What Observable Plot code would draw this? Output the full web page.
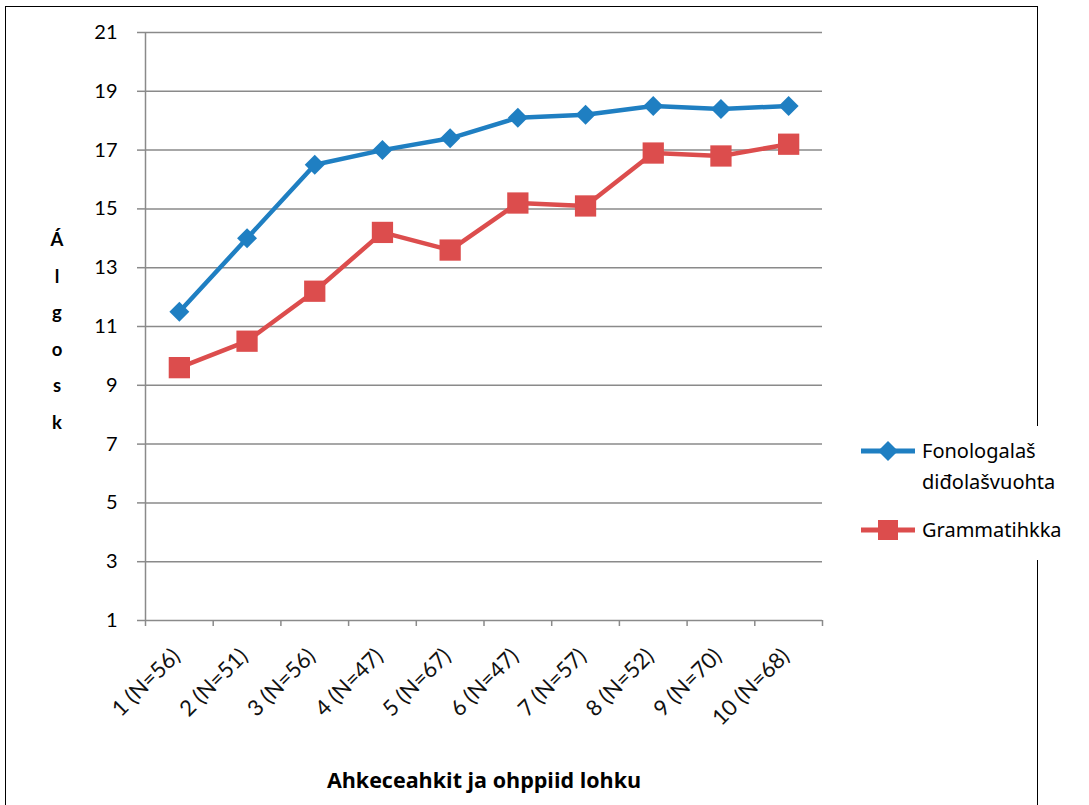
<!DOCTYPE html>
<html><head><meta charset="utf-8">
<script src="https://cdn.jsdelivr.net/npm/d3@7"></script>
<script src="https://cdn.jsdelivr.net/npm/@observablehq/plot@0.6"></script>
<style>
body{margin:0;background:#fff;}
#wrap{position:relative;width:1089px;height:805px;overflow:hidden;background:#fff}
#frame{position:absolute;left:5px;top:6px;width:1033px;height:830px;border:1.5px solid #000;box-sizing:border-box}
#chart{position:absolute;left:0;top:0}
#ytitle{position:absolute;left:37px;top:221px;width:40px;text-align:center;font:bold 18.5px Lato,sans-serif;line-height:36.6px;color:#000}
#xtitle{position:absolute;left:0;width:968px;top:765px;text-align:center;font:bold 21.5px "Open Sans",sans-serif;color:#000}
#legend{position:absolute;left:853px;top:426px;width:236px;height:134px;background:#fff;font:20px "Noto Sans",sans-serif;color:#000}
.li{position:absolute;left:8px;display:flex;align-items:flex-start}
.li svg{flex:none}
.li span{line-height:31px;margin-left:7px}
</style></head><body>
<div id="wrap">
<div id="frame"></div>
<div id="chart"></div>
<div id="ytitle"></div>
<div id="xtitle"></div>
<div id="legend"></div>
</div>
<script>
const categories = ["1 (N=56)","2 (N=51)","3 (N=56)","4 (N=47)","5 (N=67)","6 (N=47)","7 (N=57)","8 (N=52)","9 (N=70)","10 (N=68)"];
const fonologalas = [11.5,14.0,16.5,17.0,17.4,18.1,18.2,18.5,18.4,18.5];
const grammatihkka = [9.6,10.5,12.2,14.2,13.6,15.2,15.1,16.9,16.8,17.2];
const yTicks = [1,3,5,7,9,11,13,15,17,19,21];
const seriesNames = ["Fonologalaš\ndiđolašvuohta","Grammatihkka"];
const colors = ["#1f7fc2","#dc4d4d"];
const yTitle = "Álgosk";
const xTitle = "Ahkeceahkit ja ohppiid lohku";

const rows = categories.map((c,i)=>({idx:i+1,label:c,f:fonologalas[i],g:grammatihkka[i]}));
const bounds = categories.map((c,i)=>i+0.5).concat([categories.length+0.5]);
const grid = "#8a8a8a";

const chart = Plot.plot({
  width:1089, height:805,
  marginLeft:145, marginRight:267, marginTop:32, marginBottom:185,
  style:{background:"transparent", fontFamily:"Lato, sans-serif"},
  x:{type:"linear", domain:[0.5, categories.length+0.5], axis:null},
  y:{domain:[1,21], axis:null},
  marks:[
    Plot.ruleY(yTicks,{stroke:grid,strokeWidth:1.5}),
    Plot.ruleX([0.5],{stroke:grid,strokeWidth:1.5}),
    Plot.axisY({ticks:yTicks, tickSize:8, tickPadding:20, fontSize:20, stroke:grid, strokeWidth:1.5, fill:"#000", label:null}),
    Plot.axisX({ticks:bounds, tickSize:6, tickFormat:()=>"", stroke:grid, strokeWidth:1.5, label:null}),
    Plot.text(rows,{x:"idx", y:1, text:"label", rotate:-45, textAnchor:"end", fontSize:22, dx:-3, dy:32, fill:"#111"}),
    Plot.line(rows,{x:"idx", y:"f", stroke:colors[0], strokeWidth:4.5}),
    Plot.dot(rows,{x:"idx", y:"f", symbol:"diamond2", r:9, fill:colors[0]}),
    Plot.line(rows,{x:"idx", y:"g", stroke:colors[1], strokeWidth:4.5}),
    Plot.dot(rows,{x:"idx", y:"g", symbol:"square", r:12, fill:colors[1]})
  ]
});
document.getElementById("chart").appendChild(chart);

document.getElementById("ytitle").innerHTML = [...yTitle].join("<br>");
document.getElementById("xtitle").textContent = xTitle;

const lg = document.getElementById("legend");
const tops = [9, 88];
seriesNames.forEach((n,i)=>{
  const d = document.createElement("div");
  d.className = "li";
  d.style.top = tops[i]+"px";
  const marker = i===0
    ? `<polygon points="27,6 37,16 27,26 17,16" fill="${colors[0]}"/>`
    : `<rect x="17" y="6" width="20" height="20" fill="${colors[1]}"/>`;
  d.innerHTML = `<svg width="54" height="32"><line x1="0" x2="54" y1="16" y2="16" stroke="${colors[i]}" stroke-width="5"/>${marker}</svg><span>${n.replace("\n","<br>")}</span>`;
  lg.appendChild(d);
});
</script>
</body></html>
